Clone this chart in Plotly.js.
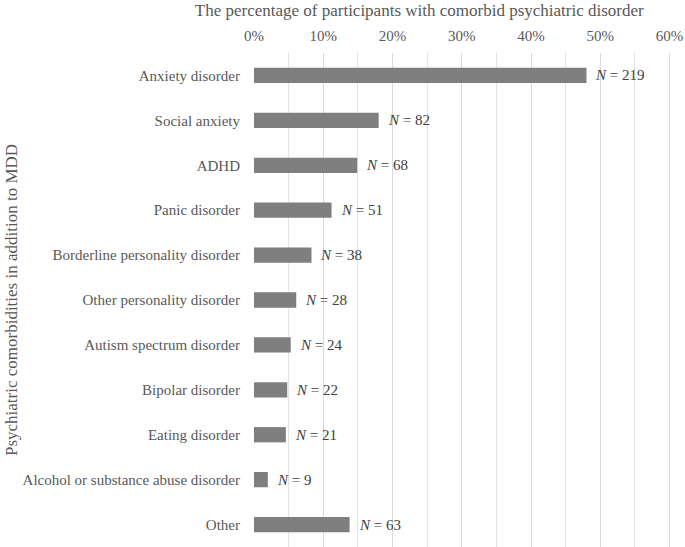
<!DOCTYPE html>
<html>
<head>
<meta charset="utf-8">
<script src="https://cdn.plot.ly/plotly-3.0.1.min.js"></script>
<style>html,body{margin:0;padding:0;background:#fff;}#chart{width:685px;height:547px;}</style>
</head>
<body>
<div id="chart"></div>
<script>
const categories = ["Anxiety disorder","Social anxiety","ADHD","Panic disorder","Borderline personality disorder","Other personality disorder","Autism spectrum disorder","Bipolar disorder","Eating disorder","Alcohol or substance abuse disorder","Other"];
const percentages = [0.480, 0.180, 0.149, 0.112, 0.083, 0.061, 0.053, 0.048, 0.046, 0.020, 0.138];
const counts = [219, 82, 68, 51, 38, 28, 24, 22, 21, 9, 63];
const xTickVals = [0, 0.1, 0.2, 0.3, 0.4, 0.5, 0.6];
const xTickText = ["0%","10%","20%","30%","40%","50%","60%"];
const xMinorVals = [0.05, 0.15, 0.25, 0.35, 0.45, 0.55];

const FONT = "'Liberation Serif', 'Times New Roman', serif";
const TXT = "#595959";

const trace = {
  type: "bar",
  orientation: "h",
  y: categories,
  x: percentages,
  marker: {color: "#7f7f7f"},
  hoverinfo: "none"
};

const annotations = categories.map((c, i) => ({
  x: percentages[i], y: c, xref: "x", yref: "y",
  text: "<i>N</i> = " + counts[i],
  showarrow: false, xanchor: "left", yanchor: "middle", xshift: 7,
  font: {family: FONT, size: 15, color: "#404040"}
}));

const layout = {
  width: 685, height: 547,
  margin: {l: 254, r: 14, t: 53, b: 0, pad: 0},
  paper_bgcolor: "#fff", plot_bgcolor: "#fff",
  bargap: 0.66,
  showlegend: false,
  font: {family: FONT, size: 15, color: TXT},
  title: {
    text: "The percentage of participants with comorbid psychiatric disorder",
    font: {family: FONT, size: 17, color: TXT},
    xref: "container", x: 0.612, xanchor: "center",
    yref: "container", y: 0.981, yanchor: "middle"
  },
  xaxis: {
    side: "top",
    range: [0, 0.602],
    tickvals: xTickVals, ticktext: xTickText,
    ticklabeloverflow: "allow",
    showgrid: true, gridcolor: "#d9d9d9", gridwidth: 1,
    minor: {tickvals: xMinorVals, showgrid: true, gridcolor: "#e3e3e3", gridwidth: 1},
    zeroline: false, showline: false,
    ticks: "", ticklabelstandoff: 8,
    tickfont: {family: FONT, size: 15, color: TXT},
    fixedrange: true
  },
  yaxis: {
    type: "category",
    autorange: "reversed",
    showgrid: false, zeroline: false, showline: false,
    ticks: "", ticklabelstandoff: 13,
    tickfont: {family: FONT, size: 15, color: TXT},
    title: {text: "Psychiatric comorbidities in addition to MDD", font: {family: FONT, size: 17, color: TXT}, standoff: 0},
    fixedrange: true
  },
  annotations: annotations
};

Plotly.newPlot("chart", [trace], layout, {displayModeBar: false, staticPlot: true});
</script>
</body>
</html>
